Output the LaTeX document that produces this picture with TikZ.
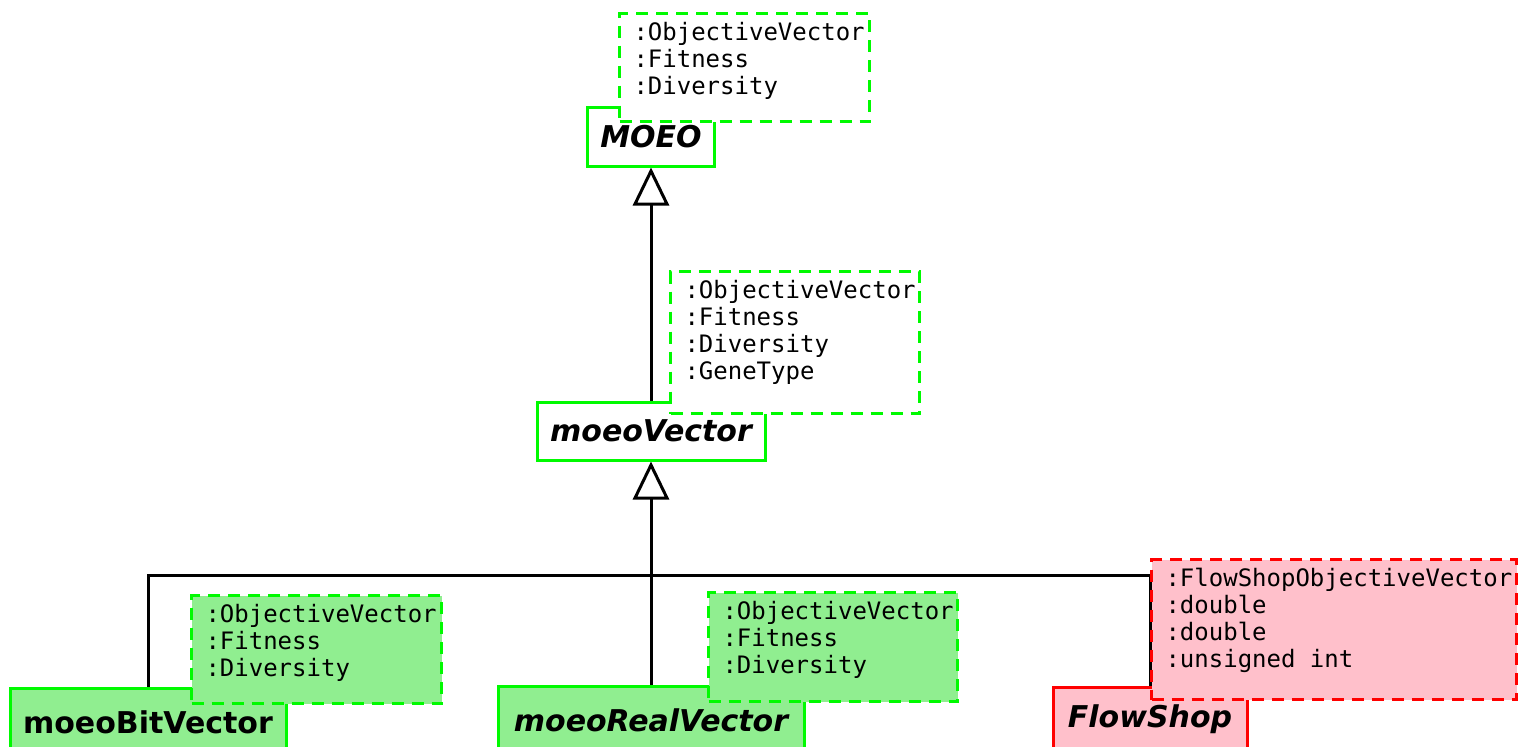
\documentclass[tikz,border=0pt]{standalone}
\usepackage{fontspec}
\usepackage{tikz}
\usetikzlibrary{arrows.meta,backgrounds}
\newfontfamily\classFont{DejaVu Sans}
\newfontfamily\paramFont{DejaVu Sans Mono}
\tikzstyle{diagram} = [x = 0.5pt, y = -0.5pt]
\definecolor{umlGreen}{RGB}{0,250,0}
\definecolor{umlLightGreen}{RGB}{144,238,144}
\definecolor{umlRed}{RGB}{255,0,0}
\definecolor{umlPink}{RGB}{255,192,203}
\tikzstyle{classBox} = [draw=umlGreen, fill=white, line width=1.5pt, inner sep=0pt, font=\classFont\fontsize{15}{18}\selectfont\bfseries\itshape]
\tikzstyle{paramBox} = [draw=umlGreen, fill=white, line width=1.5pt, dash pattern=on 6pt off 4pt, inner xsep=7pt, inner ysep=4.5pt, font=\paramFont\fontsize{12}{13.4}\selectfont]
\tikzstyle{concreteStyle} = [fill=umlLightGreen]
\tikzstyle{problemStyle} = [draw=umlRed, fill=umlPink]
\tikzstyle{generalization} = [line width=1.5pt, -{Triangle[open, length=19pt, width=18pt]}]
\tikzstyle{busLine} = [line width=1.5pt]
\newcommand{\paramNode}[7]{\node [paramBox, #6, anchor=north west] (#1) at (#2,#3) {\parbox[c][\dimexpr #5pt/2 - 9pt\relax][t]{\dimexpr #4pt/2 - 14pt\relax}{\raggedright #7}};}

\begin{document}
\begin{tikzpicture}[diagram]
  \useasboundingbox (0,0) rectangle (1527,746);

  % classes
  \node [classBox, minimum width=63.5pt, minimum height=29.5pt] (moeo) at (651,136.5) {MOEO};
  \paramNode{moeoParams}{618}{12}{250}{108}{}{:ObjectiveVector\\:Fitness\\:Diversity}

  \node [classBox, minimum width=114pt, minimum height=29pt] (moeoVector) at (651,431) {moeoVector};
  \paramNode{vectorParams}{669}{270}{249}{142}{}{:ObjectiveVector\\:Fitness\\:Diversity\\:GeneType}

  \node [classBox, concreteStyle, font={\classFont\fontsize{15}{18}\selectfont\bfseries}, minimum width=138pt, minimum height=34pt] (bitVector) at (148,722) {moeoBitVector};
  \paramNode{bitParams}{190}{594}{250}{108}{concreteStyle}{:ObjectiveVector\\:Fitness\\:Diversity}

  \node [classBox, concreteStyle, minimum width=153pt, minimum height=34pt] (realVector) at (651,720) {moeoRealVector};
  \paramNode{realParams}{707}{591}{249}{109}{concreteStyle}{:ObjectiveVector\\:Fitness\\:Diversity}

  \node [classBox, problemStyle, minimum width=97pt, minimum height=32pt] (flowShop) at (1150,719) {FlowShop};
  \paramNode{flowShopParams}{1150}{558}{365}{140}{problemStyle}{:FlowShopObjectiveVector\\:double\\:double\\:unsigned int}

  % inheritance
  \begin{scope}[on background layer]
    \coordinate (busJoin) at (651,575);
    \draw [generalization] (moeoVector.north) -- (moeo.south);
    \draw [generalization] (realVector.north) -- (moeoVector.south);
    \draw [busLine] (bitVector.north) |- (busJoin) -| (flowShop.north);
  \end{scope}
\end{tikzpicture}
\end{document}
